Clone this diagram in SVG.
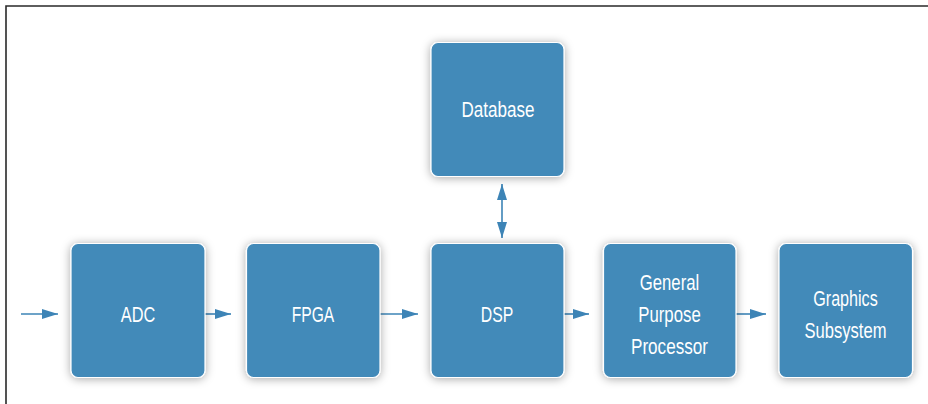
<svg xmlns="http://www.w3.org/2000/svg" width="928" height="404" viewBox="0 0 928 404">
<style>
.box{fill:#428ab9;stroke:#ffffff;stroke-width:1.2;filter:url(#sh)}
.lbl{font-family:"Liberation Sans",Arial,sans-serif;font-size:21.5px;fill:#ffffff;text-anchor:middle}
.con{stroke:#3d84b6;stroke-width:1.6;fill:none}
.frame{stroke:#2a2a2a;stroke-width:1.6;fill:none}
</style>
<defs>
<filter id="sh" x="-30%" y="-30%" width="160%" height="160%">
<feDropShadow dx="0" dy="1" stdDeviation="5" flood-color="#000" flood-opacity="0.35"/>
</filter>
<marker id="ah" viewBox="0 0 16 10" refX="16" refY="5" markerWidth="16" markerHeight="10" markerUnits="userSpaceOnUse" orient="auto-start-reverse">
<path d="M0,0 L16,5 L0,10 Z" fill="#3d84b6"/>
</marker>
</defs>
<rect width="928" height="404" fill="#ffffff"/>
<path class="frame" d="M6,404 V6 H928"/>
<g id="connectors">
<line class="con" x1="21" y1="314" x2="58" y2="314" marker-end="url(#ah)"/>
<line class="con" x1="205" y1="314" x2="231" y2="314" marker-end="url(#ah)"/>
<line class="con" x1="380" y1="314" x2="418" y2="314" marker-end="url(#ah)"/>
<line class="con" x1="564" y1="314" x2="589" y2="314" marker-end="url(#ah)"/>
<line class="con" x1="736" y1="314" x2="766" y2="314" marker-end="url(#ah)"/>
<line class="con" x1="502" y1="184" x2="502" y2="238" marker-start="url(#ah)" marker-end="url(#ah)"/>
</g>
<g id="database">
<rect class="box" x="431" y="42.5" width="133" height="134" rx="7"/>
<text class="lbl" x="498" y="117" textLength="73" lengthAdjust="spacingAndGlyphs">Database</text>
</g>
<g id="adc">
<rect class="box" x="71" y="243.5" width="134" height="134" rx="7"/>
<text class="lbl" x="138" y="322" textLength="34.5" lengthAdjust="spacingAndGlyphs">ADC</text>
</g>
<g id="fpga">
<rect class="box" x="246.5" y="243.5" width="133.5" height="134" rx="7"/>
<text class="lbl" x="313" y="322" textLength="42.5" lengthAdjust="spacingAndGlyphs">FPGA</text>
</g>
<g id="dsp">
<rect class="box" x="431" y="243.5" width="133" height="134" rx="7"/>
<text class="lbl" x="497" y="322" textLength="32.5" lengthAdjust="spacingAndGlyphs">DSP</text>
</g>
<g id="gpp">
<rect class="box" x="603.5" y="243.5" width="132.5" height="134" rx="7"/>
<text class="lbl" x="669.5" y="290" textLength="59.5" lengthAdjust="spacingAndGlyphs">General</text>
<text class="lbl" x="669.5" y="322" textLength="62.5" lengthAdjust="spacingAndGlyphs">Purpose</text>
<text class="lbl" x="669.5" y="354" textLength="77" lengthAdjust="spacingAndGlyphs">Processor</text>
</g>
<g id="graphics">
<rect class="box" x="779" y="243.5" width="133.5" height="134" rx="7"/>
<text class="lbl" x="845.5" y="306" textLength="64.5" lengthAdjust="spacingAndGlyphs">Graphics</text>
<text class="lbl" x="845.5" y="338" textLength="82" lengthAdjust="spacingAndGlyphs">Subsystem</text>
</g>
</svg>
